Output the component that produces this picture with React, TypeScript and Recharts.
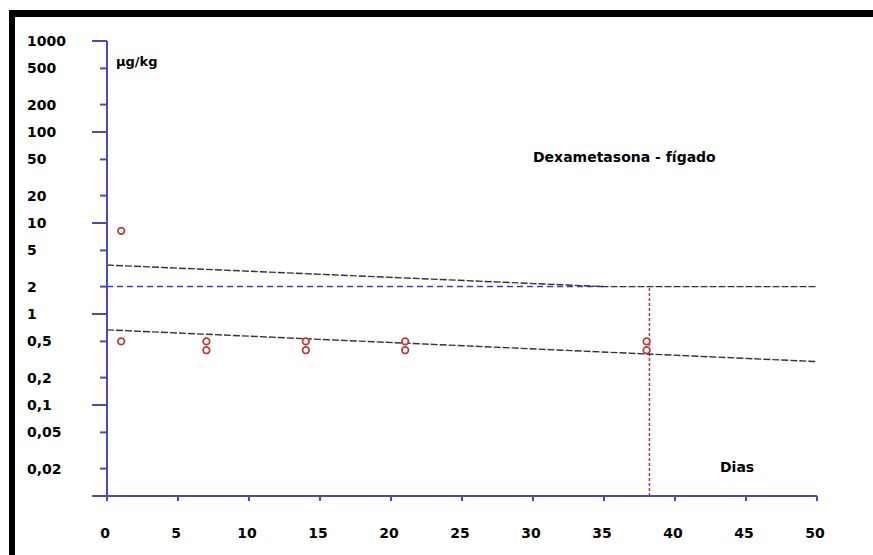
import React from 'react';
import { ComposedChart, XAxis, YAxis, Line, Scatter, ReferenceLine } from 'recharts';

// Data
const sampleDays = [1, 1, 7, 7, 14, 14, 21, 21, 38, 38];
const sampleValues = [8.2, 0.5, 0.5, 0.4, 0.5, 0.4, 0.5, 0.4, 0.5, 0.4];

const upperDays = [0, 35, 50];
const upperValues = [3.45, 2.0, 2.0];

const lowerDays = [0, 50];
const lowerValues = [0.67, 0.3];

const mrlValue = 2;
const mrlEndDay = 35;
const withdrawalDay = 38.2;
const interceptValue = 0.67;

const xTicks = [0, 5, 10, 15, 20, 25, 30, 35, 40, 45, 50];
const yTicks = [0.02, 0.05, 0.1, 0.2, 0.5, 1, 2, 5, 10, 20, 50, 100, 200, 500, 1000];
const yTickLabels = ['0,02', '0,05', '0,1', '0,2', '0,5', '1', '2', '5', '10', '20', '50', '100', '200', '500', '1000'];
const majorTicks = [1000, 100, 10, 1, 0.1];

const title = 'Dexametasona - fígado';
const unitLabel = 'µg/kg';
const xLabel = 'Dias';

const scatterData = sampleDays.map((d, i) => ({ x: d, y: sampleValues[i] }));
const upperData = upperDays.map((d, i) => ({ x: d, y: upperValues[i] }));
const lowerData = lowerDays.map((d, i) => ({ x: d, y: lowerValues[i] }));

const AXIS = '#4b4bb6';
const RED = '#b83a3a';
const FONT = '"DejaVu Sans", sans-serif';

const YTick = (props: any) => {
  const { y, payload } = props;
  const v = payload.value;
  const idx = yTicks.indexOf(v);
  const major = majorTicks.includes(v);
  return (
    <g>
      <line x1={major ? 92 : 100} x2={107} y1={y} y2={y} stroke={AXIS} strokeWidth={2} />
      <text x={27} y={y} dy="0.36em" textAnchor="start" fontFamily={FONT} fontWeight="bold" fontSize={14} fill="#000">
        {yTickLabels[idx]}
      </text>
    </g>
  );
};

const XTick = (props: any) => {
  const { x, payload } = props;
  return (
    <text x={x - 2} y={538} textAnchor="middle" fontFamily={FONT} fontWeight="bold" fontSize={14} fill="#000">
      {String(payload.value)}
    </text>
  );
};

const Circle = (props: any) => {
  const { cx, cy } = props;
  return <circle cx={cx} cy={cy} r={3.3} fill="#fff" stroke={RED} strokeWidth={1.7} />;
};

export default function App() {
  return (
    <div style={{ position: 'fixed', left: 0, top: 0, width: 873, height: 555, background: '#fff', overflow: 'hidden' }}>
      <div style={{ position: 'absolute', left: 9, top: 10, width: 900, height: 600, borderTop: '7px solid #000', borderLeft: '6px solid #000', boxSizing: 'border-box' }} />
      <div style={{ position: 'absolute', left: 0, top: 0 }}>
        <ComposedChart width={873} height={555} margin={{ top: 41, right: 56, bottom: 29, left: 0 }}>
          <XAxis
            dataKey="x"
            type="number"
            domain={[0, 50]}
            ticks={xTicks}
            allowDataOverflow
            height={30}
            stroke={AXIS}
            axisLine={{ stroke: AXIS, strokeWidth: 2 }}
            tickLine={{ stroke: AXIS, strokeWidth: 2 }}
            tickSize={5}
            tick={<XTick />}
            interval={0}
          />
          <YAxis
            dataKey="y"
            type="number"
            scale="log"
            domain={[0.01, 1000]}
            ticks={yTicks}
            allowDataOverflow
            width={107}
            axisLine={{ stroke: AXIS, strokeWidth: 2 }}
            tickLine={false}
            tick={<YTick />}
            interval={0}
          />
          <ReferenceLine
            segment={[{ x: -1.05, y: 0.01 }, { x: 0, y: 0.01 }]}
            ifOverflow="visible"
            stroke={AXIS}
            strokeWidth={2}
          />
          <ReferenceLine
            segment={[{ x: 0, y: mrlValue }, { x: mrlEndDay, y: mrlValue }]}
            stroke="#3b3bd0"
            strokeWidth={1.5}
            strokeDasharray="6 4"
          />
          <ReferenceLine
            segment={[{ x: withdrawalDay, y: 0.01 }, { x: withdrawalDay, y: mrlValue }]}
            stroke={RED}
            strokeWidth={1.5}
            strokeDasharray="3 2"
          />
          <ReferenceLine
            segment={[{ x: 0, y: 0.01 }, { x: 0, y: interceptValue }]}
            stroke="#d06050"
            strokeWidth={1.2}
            strokeDasharray="3 2"
          />
          <Line data={upperData} dataKey="y" type="linear" stroke="#333" strokeWidth={1.4} strokeDasharray="7 2" dot={false} isAnimationActive={false} />
          <Line data={lowerData} dataKey="y" type="linear" stroke="#333" strokeWidth={1.4} strokeDasharray="7 2" dot={false} isAnimationActive={false} />
          <Scatter data={scatterData} dataKey="y" shape={<Circle />} isAnimationActive={false} />
        </ComposedChart>
      </div>
      <div style={{ position: 'absolute', left: 116, top: 54, fontFamily: FONT, fontWeight: 'bold', fontSize: 13, color: '#000', lineHeight: '16px' }}>{unitLabel}</div>
      <div style={{ position: 'absolute', left: 533, top: 148, fontFamily: FONT, fontWeight: 'bold', fontSize: 14, color: '#000', lineHeight: '18px', whiteSpace: 'nowrap' }}>{title}</div>
      <div style={{ position: 'absolute', left: 720, top: 458, fontFamily: FONT, fontWeight: 'bold', fontSize: 14, color: '#000', lineHeight: '18px' }}>{xLabel}</div>
    </div>
  );
}
